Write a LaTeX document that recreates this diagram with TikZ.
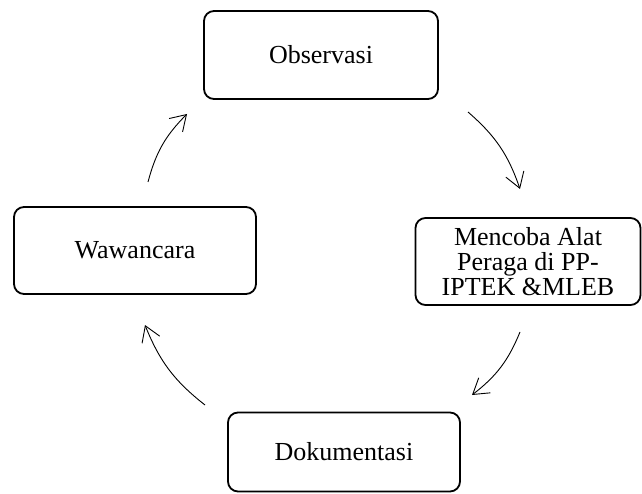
\documentclass[tikz,border=0pt]{standalone}
\usepackage{fontspec}
\setmainfont{Liberation Serif}
\usetikzlibrary{arrows.meta}
\begin{document}
\begin{tikzpicture}[x=1pt,y=-1pt,
  stepbox/.style={draw, line width=1.8pt, rounded corners=10pt, inner sep=0pt,
    font=\fontsize{26}{25}\selectfont, align=center},
  cyc/.style={line width=0.9pt, -{Straight Barb[length=15pt,width=19pt,line width=0.9pt]}}]
\useasboundingbox (0,0) rectangle (642,494);
\node[stepbox, minimum width=234pt, minimum height=88pt] (obs) at (321,55) {Observasi};
\node[stepbox, minimum width=225pt, minimum height=87pt] (mcb) at (528,261.5) {Mencoba Alat\\Peraga di PP-\\IPTEK \&MLEB};
\node[stepbox, minimum width=242pt, minimum height=87pt] (waw) at (135,250.5) {Wawancara};
\node[stepbox, minimum width=232pt, minimum height=79pt] (dok) at (344,452) {Dokumentasi};
\coordinate (a1s) at (468,112);
\coordinate (a1e) at (520,189);
\coordinate (a2s) at (520,332);
\coordinate (a2e) at (472,395);
\coordinate (a3s) at (205,405);
\coordinate (a3e) at (145,325);
\coordinate (a4s) at (148,182);
\coordinate (a4e) at (187,114);
\draw[cyc] (a1s) to[bend left=15] (a1e);
\draw[cyc] (a2s) to[bend left=15] (a2e);
\draw[cyc] (a3s) to[bend left=15] (a3e);
\draw[cyc] (a4s) to[bend left=15] (a4e);
\end{tikzpicture}
\end{document}
